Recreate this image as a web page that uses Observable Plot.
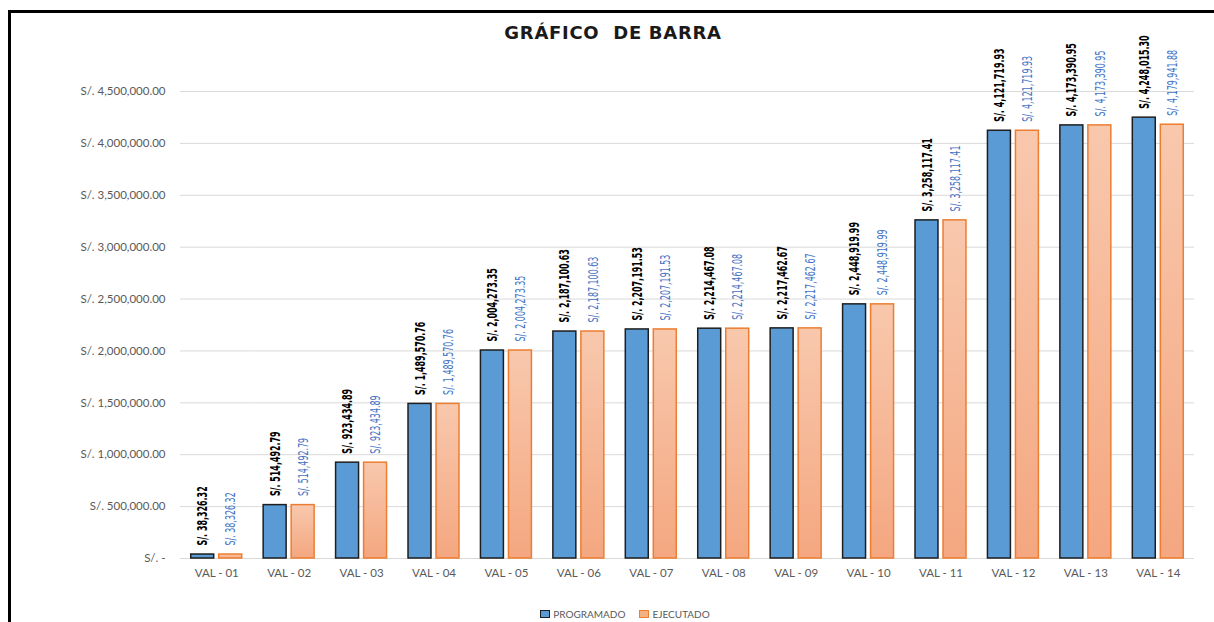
<!DOCTYPE html>
<html>
<head>
<meta charset="utf-8">
<script src="https://cdn.jsdelivr.net/npm/d3@7"></script>
<script src="https://cdn.jsdelivr.net/npm/@observablehq/plot@0.6"></script>
<style>
  html, body { margin: 0; padding: 0; background: #fff; }
  #wrap { position: relative; width: 1214px; height: 622px; overflow: hidden; }
  #frame { position: absolute; left: 8px; top: 10px; width: 1300px; height: 700px;
           border-top: 3px solid #000; border-left: 3px solid #000; box-sizing: border-box; }
  #title { position: absolute; left: 0; width: 1226px; top: 22px; text-align: center;
           font-family: "DejaVu Sans", sans-serif; font-weight: bold; font-size: 18px;
           color: #1a1a1a; white-space: pre; letter-spacing: 0.7px; }
  #chart { position: absolute; left: 0; top: 0; }
  #legend { position: absolute; top: 608px; left: 0; width: 1250px; display: flex; justify-content: center;
            gap: 14px; font-family: Lato, sans-serif; font-size: 10px; color: #595959; }
  #legend span.item { display: flex; align-items: center; gap: 3px; }
  #legend i { display: inline-block; width: 8px; height: 6px; box-sizing: content-box; }
</style>
</head>
<body>
<div id="wrap">
  <div id="frame"></div>
  <div id="title">GRÁFICO  DE BARRA</div>
  <div id="chart"></div>
  <div id="legend"></div>
</div>
<script>
const categorias = ["VAL - 01","VAL - 02","VAL - 03","VAL - 04","VAL - 05","VAL - 06","VAL - 07",
                    "VAL - 08","VAL - 09","VAL - 10","VAL - 11","VAL - 12","VAL - 13","VAL - 14"];
const programado = [38326.32, 514492.79, 923434.89, 1489570.76, 2004273.35, 2187100.63, 2207191.53,
                    2214467.08, 2217462.67, 2448919.99, 3258117.41, 4121719.93, 4173390.95, 4248015.30];
const ejecutado  = [38326.32, 514492.79, 923434.89, 1489570.76, 2004273.35, 2187100.63, 2207191.53,
                    2214467.08, 2217462.67, 2448919.99, 3258117.41, 4121719.93, 4173390.95, 4179941.88];
const series = ["PROGRAMADO", "EJECUTADO"];
const yTicks = [0, 500000, 1000000, 1500000, 2000000, 2500000, 3000000, 3500000, 4000000, 4500000];

const data = categorias.flatMap((c, i) => [
  {cat: c, serie: series[0], valor: programado[i]},
  {cat: c, serie: series[1], valor: ejecutado[i]}
]);
const fmtNum = d3.format(",.2f");
const fmt = v => v === 0 ? "S/. -" : "S/. " + fmtNum(v);
const isP = d => d.serie === series[0];
const labelFont = "'DejaVu Sans Condensed', 'DejaVu Sans', sans-serif";
const colorP = "#000000", colorE = "#4472C4";

const svg = Plot.plot({
  width: 1214, height: 600,
  marginLeft: 180, marginRight: 20, marginTop: 91, marginBottom: 42,
  style: {fontFamily: "Lato, sans-serif", fontSize: "11.5px", color: "#595959", background: "transparent", overflow: "visible"},
  fx: {domain: categorias, padding: 0, round: false, label: null, tickSize: 0, tickPadding: 10},
  x: {domain: series, paddingInner: 0.18, paddingOuter: 0.383, round: false, axis: null},
  y: {domain: [0, 4500000], ticks: yTicks, tickFormat: fmt, tickSize: 0, tickPadding: 15, label: null},
  marks: [
    Plot.ruleY(yTicks, {stroke: "#d9d9d9", strokeWidth: 1}),
    Plot.barY(data.filter(isP), {fx: "cat", x: "serie", y: "valor", fill: "#5B9BD5", stroke: "#1e1e1e", strokeWidth: 1.5}),
    Plot.barY(data.filter(d => !isP(d)), {fx: "cat", x: "serie", y: "valor", fill: "url(#gradE)", stroke: "#ED7D31", strokeWidth: 1.5}),
    Plot.text(data.filter(isP), {fx: "cat", x: "serie", y: "valor", text: d => fmt(d.valor), rotate: -90,
      textAnchor: "start", dy: -9, fill: colorP, fontFamily: labelFont, fontSize: 14.5, fontWeight: "bold"}),
    Plot.text(data.filter(d => !isP(d)), {fx: "cat", x: "serie", y: "valor", text: d => fmt(d.valor), rotate: -90,
      textAnchor: "start", dy: -9, fill: colorE, fontFamily: labelFont, fontSize: 14.5})
  ]
});

// condense the value labels along their reading direction
svg.querySelectorAll('g[aria-label="text"]').forEach(g => {
  const f = (g.getAttribute("fill") || "").toLowerCase();
  const k = f === colorE.toLowerCase() ? 0.66 : 0.61;
  g.querySelectorAll("text").forEach(t => {
    const tr = t.getAttribute("transform") || "";
    t.setAttribute("transform", tr + ` scale(${k},1)`);
  });
});

const ns = "http://www.w3.org/2000/svg";
const defs = document.createElementNS(ns, "defs");
const grad = document.createElementNS(ns, "linearGradient");
grad.setAttribute("id", "gradE");
grad.setAttribute("x1", "0"); grad.setAttribute("y1", "0");
grad.setAttribute("x2", "0"); grad.setAttribute("y2", "1");
[["0%", "#F8C8AD"], ["100%", "#F4A780"]].forEach(([o, c]) => {
  const s = document.createElementNS(ns, "stop");
  s.setAttribute("offset", o); s.setAttribute("stop-color", c);
  grad.appendChild(s);
});
defs.appendChild(grad);
svg.insertBefore(defs, svg.firstChild);
document.getElementById("chart").appendChild(svg);

const legendColors = {PROGRAMADO: ["#5B9BD5", "#1e1e1e"], EJECUTADO: ["#F4B183", "#ED7D31"]};
const legend = document.getElementById("legend");
series.forEach(s => {
  const item = document.createElement("span");
  item.className = "item";
  const sw = document.createElement("i");
  sw.style.background = legendColors[s][0];
  sw.style.border = "1px solid " + legendColors[s][1];
  item.appendChild(sw);
  item.appendChild(document.createTextNode(s));
  legend.appendChild(item);
});
</script>
</body>
</html>
